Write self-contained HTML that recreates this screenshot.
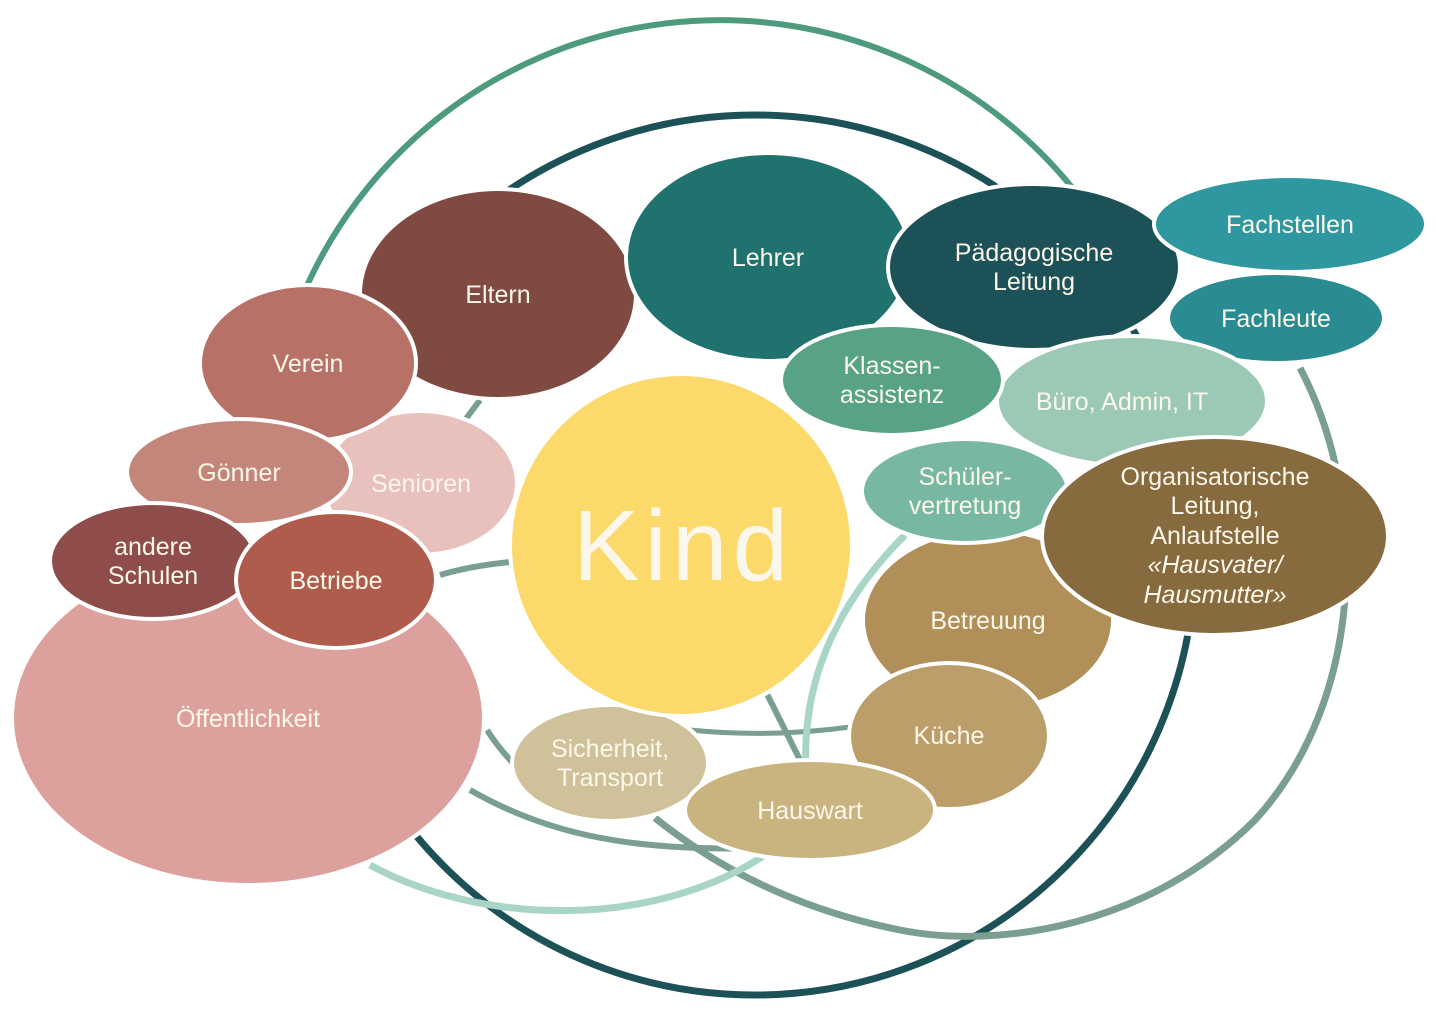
<!DOCTYPE html>
<html><head><meta charset="utf-8"><style>
html,body{margin:0;padding:0;background:#fff}
svg{display:block}
text{font-family:"Liberation Sans",sans-serif;fill:#fbf7ea;text-anchor:middle;font-size:25px}
</style></head><body>
<svg width="1436" height="1014" viewBox="0 0 1436 1014">
<g fill="none" stroke-width="7">
<path d="M305 290 A454 454 0 0 1 1078 195" stroke="#4e9a7c" stroke-width="6"/>
<circle cx="755" cy="555" r="440" stroke="#1b5157"/>
<path d="M1300 368 C1370 500 1365 700 1255 820 C1150 925 1000 950 900 930 C800 910 720 870 655 818" stroke="#7a9e92"/>
<path d="M440 575 Q470 566 510 562" stroke="#7a9e92" stroke-width="6"/>
<path d="M465 420 L480 400" stroke="#7a9e92" stroke-width="6"/>
<path d="M470 790 C540 830 620 852 760 848" stroke="#7a9e92" stroke-width="6"/>
<path d="M487 730 C500 750 510 760 520 770" stroke="#7a9e92" stroke-width="6"/>
<path d="M690 730 Q770 738 850 727" stroke="#7a9e92" stroke-width="5"/>
<path d="M765 690 L800 760" stroke="#7a9e92" stroke-width="6"/>
<path d="M905 535 C830 610 802 690 806 770" stroke="#a8d5c5"/>
<path d="M765 855 C650 930 480 925 370 865" stroke="#a8d5c5"/>
</g>
<g stroke="#fff" stroke-width="4">
<ellipse cx="248" cy="718" rx="236" ry="167" fill="#dca19c"/>
<ellipse cx="420" cy="483" rx="97" ry="72" fill="#e8c0bc"/>
<ellipse cx="498" cy="294" rx="138" ry="105" fill="#7f4a42"/>
<ellipse cx="308" cy="363" rx="108" ry="78" fill="#b87166"/>
<ellipse cx="239" cy="472" rx="112" ry="53" fill="#c4867b"/>
<ellipse cx="153" cy="561" rx="103" ry="58" fill="#8e4d4b"/>
<ellipse cx="336" cy="580" rx="100" ry="68" fill="#b05c4c"/>
<ellipse cx="768" cy="257" rx="142" ry="104" fill="#20726f"/>
<ellipse cx="1034" cy="267" rx="146" ry="83" fill="#1b5157"/>
<ellipse cx="1290" cy="224" rx="136" ry="48" fill="#2e97a0"/>
<ellipse cx="1276" cy="318" rx="108" ry="45" fill="#2a8b93"/>
<ellipse cx="1132" cy="401" rx="135" ry="65" fill="#9bc9b5"/>
<ellipse cx="892" cy="380" rx="111" ry="55" fill="#58a385"/>
<ellipse cx="988" cy="620" rx="125" ry="90" fill="#b08f58"/>
<ellipse cx="965" cy="491" rx="103" ry="52" fill="#78b7a1"/>
<ellipse cx="1215" cy="536" rx="173" ry="99" fill="#876a3e"/>
<ellipse cx="949" cy="736" rx="100" ry="73" fill="#bc9e6a"/>
<ellipse cx="610" cy="763" rx="98" ry="58" fill="#cfc29a"/>
<ellipse cx="810" cy="810" rx="125" ry="50" fill="#c9b480"/>
<circle cx="681" cy="545" r="171" fill="#fcd96b"/>
</g>
<text x="248" y="727">Öffentlichkeit</text>
<text x="153" y="555">andere</text><text x="153" y="584">Schulen</text>
<text x="336" y="589">Betriebe</text>
<text x="239" y="481">Gönner</text>
<text x="421" y="492">Senioren</text>
<text x="308" y="372">Verein</text>
<text x="498" y="303">Eltern</text>
<text x="768" y="266">Lehrer</text>
<text x="1034" y="261">Pädagogische</text><text x="1034" y="290">Leitung</text>
<text x="1290" y="233">Fachstellen</text>
<text x="1276" y="327">Fachleute</text>
<text x="892" y="374">Klassen-</text><text x="892" y="403">assistenz</text>
<text x="1122" y="410">Büro, Admin, IT</text>
<text x="965" y="485">Schüler-</text><text x="965" y="514">vertretung</text>
<text x="1215" y="485">Organisatorische</text><text x="1215" y="514">Leitung,</text><text x="1215" y="544">Anlaufstelle</text>
<text x="1215" y="573" font-style="italic">«Hausvater/</text><text x="1215" y="603" font-style="italic">Hausmutter»</text>
<text x="988" y="629">Betreuung</text>
<text x="949" y="744">Küche</text>
<text x="610" y="757">Sicherheit,</text><text x="610" y="786">Transport</text>
<text x="810" y="819">Hauswart</text>
<text x="683" y="580" style="font-size:100px;letter-spacing:5px">Kind</text>
</svg>
</body></html>
